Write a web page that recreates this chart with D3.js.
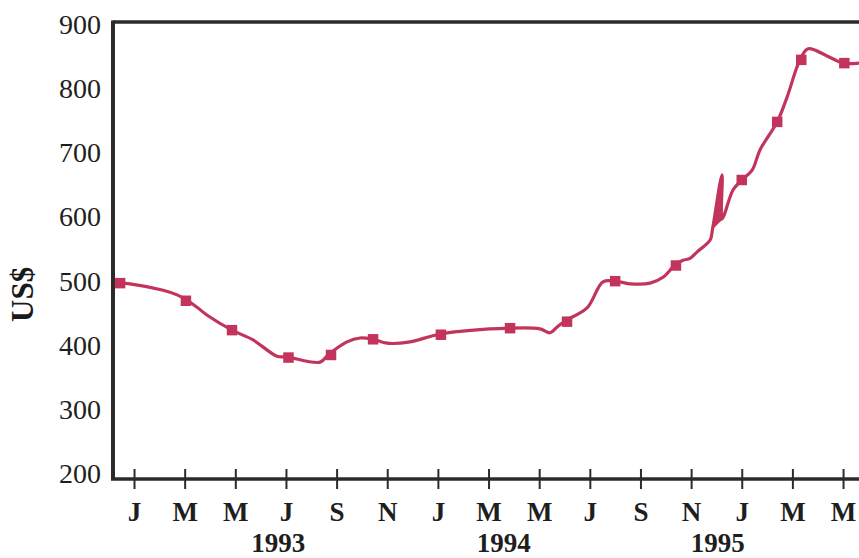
<!DOCTYPE html>
<html>
<head>
<meta charset="utf-8">
<script src="https://cdn.jsdelivr.net/npm/d3@7"></script>
<style>
  html, body { margin: 0; padding: 0; background: #ffffff; }
  svg { display: block; }
</style>
</head>
<body>
<svg id="chart" width="859" height="558"></svg>
<script>
// ---- data (month index: 0 = Jan 1993) ----
const lineMonths = [-0.55, -0.16, 1.15, 1.70, 2.09, 2.49, 2.92, 3.87, 4.70, 5.65, 6.04, 7.35, 7.66, 8.41, 8.93, 9.44, 9.99, 10.9, 12.09, 14.85, 16.03, 16.43, 16.71, 17.02, 17.89, 18.52, 19.0, 19.59, 20.38, 20.89, 21.37, 21.68, 21.96, 22.24, 22.75, 22.85, 23.22, 23.21, 23.30, 23.66, 24.01, 24.41, 24.72, 25.4, 25.79, 26.3, 26.62, 27.37, 28.0, 28.63];
const lineValues = [500, 499, 489, 482, 474, 463, 450, 428, 413, 388, 387, 379, 390, 410, 416, 414, 408, 410, 422, 431, 430, 424, 433, 442, 462, 502, 503, 499, 500, 509, 528, 535, 538, 548, 566, 584, 666, 598, 604, 643, 658, 673, 704, 747, 785, 842, 859, 848, 837, 837];
// the narrow filled spike (Dec 1994): base-left, tip, base-right
const spikeMonths = [22.85, 23.22, 23.21];
const spikeValues = [584, 666, 598];

const markerMonths = [-0.55, 2.05, 3.87, 6.1, 7.78, 9.44, 12.12, 14.85, 17.1, 19.0, 21.4, 24.0, 25.4, 26.35, 28.05];
const markerValues = [500, 473, 428, 386, 390, 414, 421, 431, 441, 503, 527, 658, 747, 842, 837];

const tickMonths = [0, 2, 4, 6, 8, 10, 12, 14, 16, 18, 20, 22, 24, 26, 28];
const tickLabels = ["J", "M", "M", "J", "S", "N", "J", "M", "M", "J", "S", "N", "J", "M", "M"];
const yTicks = [200, 300, 400, 500, 600, 700, 800, 900];
const years = ["1993", "1994", "1995"];
const yearMonths = [5.7, 14.6, 23.05];
const yTitle = "US$";

// ---- layout ----
const mLeft = 113, mRight = 859, mTop = 22, mBottom = 479;
const lineColor = "#c3345c";
const axisColor = "#2b2b2b";
const textColor = "#1e1e1e";
const serif = "Liberation Serif, serif";

const svg = d3.select("#chart");
const x = d3.scaleLinear().domain([-0.83, 28.63]).range([mLeft, mRight]);
const y = d3.scaleLinear().domain([200, 900]).range([mBottom, mTop]);
// label centres sit on a slightly tighter spacing than the gridline positions
const yLab = d3.scaleLinear().domain([200, 900]).range([mBottom - 5, mTop + 3]);

// frame: top and left lines
svg.append("line").attr("x1", mLeft).attr("x2", mRight + 5).attr("y1", mTop).attr("y2", mTop)
  .attr("stroke", axisColor).attr("stroke-width", 3.5);
svg.append("line").attr("x1", mLeft).attr("x2", mLeft).attr("y1", mTop - 1.5).attr("y2", mBottom)
  .attr("stroke", axisColor).attr("stroke-width", 4);

// y tick labels
svg.append("g").selectAll("text").data(yTicks).join("text")
  .attr("x", mLeft - 12)
  .attr("y", d => yLab(d) + 9)
  .attr("text-anchor", "end")
  .attr("font-family", serif)
  .attr("font-size", 28)
  .attr("fill", textColor)
  .text(d => d);

// y title
svg.append("text")
  .attr("transform", `translate(33, ${yLab(480)}) rotate(-90)`)
  .attr("text-anchor", "middle")
  .attr("font-family", serif)
  .attr("font-weight", "bold")
  .attr("font-size", 31)
  .attr("fill", "#1a1a1a")
  .text(yTitle);

// bottom axis
const xAxis = d3.axisBottom(x).tickValues(tickMonths).tickSize(0).tickFormat((d, i) => tickLabels[i]);
const gx = svg.append("g").attr("transform", `translate(0, ${mBottom})`).call(xAxis);
gx.select(".domain").attr("stroke", axisColor).attr("stroke-width", 3.5).attr("d", `M${mLeft - 2},0H${mRight + 5}`);
gx.selectAll(".tick line").attr("y1", -10).attr("y2", 10).attr("stroke", axisColor).attr("stroke-width", 2);
gx.selectAll(".tick text")
  .attr("y", 42)
  .attr("dy", 0)
  .attr("font-family", serif)
  .attr("font-weight", "bold")
  .attr("font-size", 27)
  .attr("fill", textColor);

// years
svg.append("g").selectAll("text").data(years).join("text")
  .attr("x", (d, i) => x(yearMonths[i]))
  .attr("y", mBottom + 73)
  .attr("text-anchor", "middle")
  .attr("font-family", serif)
  .attr("font-weight", "bold")
  .attr("font-size", 27)
  .attr("fill", textColor)
  .text(d => d);

// line
const pts = lineMonths.map((m, i) => [m, lineValues[i]]);
const line = d3.line().x(d => x(d[0])).y(d => y(d[1])).curve(d3.curveCatmullRom.alpha(0.5));
svg.append("path").datum(pts)
  .attr("d", line)
  .attr("fill", "none")
  .attr("stroke", lineColor)
  .attr("stroke-width", 3.2)
  .attr("stroke-linejoin", "round")
  .attr("stroke-linecap", "round");

// filled spike
const spikePts = spikeMonths.map((m, i) => [m, spikeValues[i]]);
svg.append("path").datum(spikePts)
  .attr("d", d3.line().x(d => x(d[0])).y(d => y(d[1])).curve(d3.curveLinearClosed))
  .attr("fill", lineColor)
  .attr("stroke", lineColor)
  .attr("stroke-width", 1.5)
  .attr("stroke-linejoin", "round");

// markers
const sym = d3.symbol().type(d3.symbolSquare).size(110);
svg.append("g").selectAll("path").data(markerMonths).join("path")
  .attr("transform", (d, i) => `translate(${x(d)}, ${y(markerValues[i])})`)
  .attr("d", sym)
  .attr("fill", lineColor);
</script>
</body>
</html>
